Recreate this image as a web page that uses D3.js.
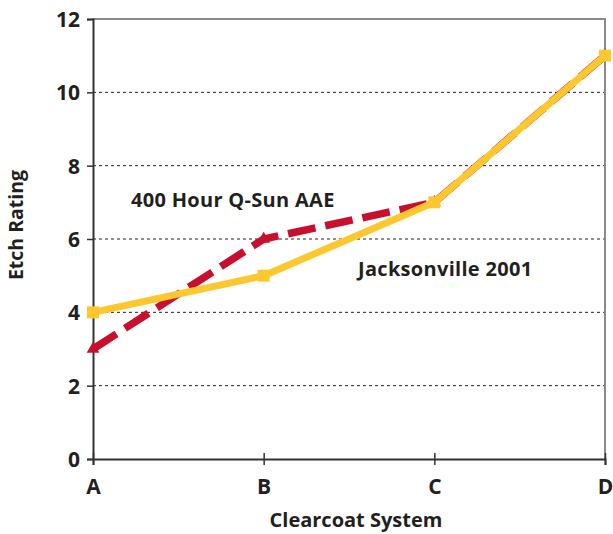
<!DOCTYPE html>
<html>
<head>
<meta charset="utf-8">
<script src="https://cdn.jsdelivr.net/npm/d3@7"></script>
<style>
  body { margin: 0; background: #fff; }
  svg text { font-family: "Open Sans", "Noto Sans", sans-serif; font-weight: 700; fill: #231f20; }
</style>
</head>
<body>
<svg id="chart" width="613" height="534"></svg>
<script>
// Clearcoat systems on the x axis
const categories = ["A", "B", "C", "D"];
// Etch ratings for each exposure
const qSunValues = [3, 6, 7, 11];
const jacksonvilleValues = [4, 5, 7, 11];
const yTicks = [0, 2, 4, 6, 8, 10, 12];

const svg = d3.select("#chart");
const margin = { left: 93, right: 8, top: 19, bottom: 75 };
const W = 613, H = 534;

const x = d3.scalePoint().domain(categories).range([margin.left, W - margin.right]);
const y = d3.scaleLinear().domain([0, 12]).range([H - margin.bottom, margin.top]);

// dashed gridlines
svg.append("g")
  .selectAll("line")
  .data(yTicks.filter(d => d > 0 && d < 12))
  .join("line")
  .attr("x1", margin.left).attr("x2", W - margin.right)
  .attr("y1", d => y(d)).attr("y2", d => y(d))
  .attr("stroke", "#222").attr("stroke-width", 1)
  .attr("stroke-dasharray", "3,3");

// top and right frame
svg.append("path")
  .attr("d", `M${margin.left},${y(12)}H${W - margin.right}V${y(0)}`)
  .attr("fill", "none").attr("stroke", "#8a8a8a").attr("stroke-width", 2);

// y axis
const yAxis = svg.append("g")
  .attr("transform", `translate(${margin.left},0)`)
  .call(d3.axisLeft(y).tickValues(yTicks).tickSize(6).tickPadding(7).tickFormat(d3.format("d")));
yAxis.select(".domain").attr("stroke", "#333").attr("stroke-width", 2);
yAxis.selectAll(".tick line").attr("stroke", "#333").attr("stroke-width", 1.5);
yAxis.selectAll(".tick text").style("font-size", "21px").attr("dy", "0.36em");

// x axis
const xAxis = svg.append("g")
  .attr("transform", `translate(0,${y(0)})`)
  .call(d3.axisBottom(x).tickSizeOuter(0).tickSize(6).tickPadding(14));
xAxis.select(".domain").attr("stroke", "#333").attr("stroke-width", 2);
xAxis.selectAll(".tick line").attr("stroke", "#333").attr("stroke-width", 1.5).attr("y1", -6);
xAxis.selectAll(".tick text").style("font-size", "21px");

// axis titles
svg.append("text")
  .attr("x", 356).attr("y", 527)
  .attr("text-anchor", "middle").style("font-size", "20px")
  .text("Clearcoat System");
svg.append("text")
  .attr("transform", `translate(23,225) rotate(-90)`)
  .attr("text-anchor", "middle").style("font-size", "19.5px")
  .text("Etch Rating");

const line = d3.line().x((d, i) => x(categories[i])).y(d => y(d));

// 400 Hour Q-Sun AAE (dashed red)
svg.append("path")
  .datum(qSunValues)
  .attr("d", line)
  .attr("fill", "none").attr("stroke", "#c8102e").attr("stroke-width", 7.5)
  .attr("stroke-dasharray", "28,10");
svg.append("g").selectAll("path")
  .data(qSunValues)
  .join("path")
  .attr("transform", (d, i) => `translate(${x(categories[i])},${y(d)})`)
  .attr("d", d3.symbol(d3.symbolTriangle, 70))
  .attr("fill", "#c8102e");

// Jacksonville 2001 (solid yellow)
svg.append("path")
  .datum(jacksonvilleValues)
  .attr("d", line)
  .attr("fill", "none").attr("stroke", "#fdc82f").attr("stroke-width", 7)
  .attr("stroke-linejoin", "round");
svg.append("g").selectAll("rect")
  .data(jacksonvilleValues)
  .join("rect")
  .attr("x", (d, i) => x(categories[i]) - 6).attr("y", d => y(d) - 6)
  .attr("width", 12).attr("height", 12)
  .attr("fill", "#fdc82f");

// series labels
svg.append("text").attr("x", 131).attr("y", 207).style("font-size", "20px")
  .style("letter-spacing", "0.3px")
  .text("400 Hour Q-Sun AAE");
svg.append("text").attr("x", 358).attr("y", 276).style("font-size", "20px")
  .style("letter-spacing", "0.3px")
  .text("Jacksonville 2001");
</script>
</body>
</html>
